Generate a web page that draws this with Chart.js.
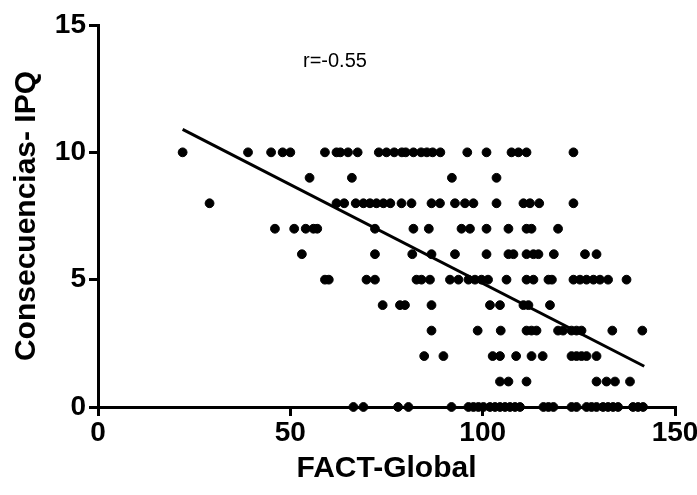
<!DOCTYPE html>
<html>
<head>
<meta charset="utf-8">
<script src="https://cdn.jsdelivr.net/npm/chart.js@4.4.0/dist/chart.umd.min.js"></script>
<style>
  html, body { margin: 0; padding: 0; background: #fff; }
</style>
</head>
<body>
<canvas id="chart" width="697" height="495"></canvas>
<script>
// FACT-Global scores for each Consecuencias-IPQ value
const factAt10 = [22, 39, 45, 48, 50, 59, 62, 63, 65, 67.5, 73, 75, 77, 79, 80, 82, 84, 85.5, 87, 89, 96, 101, 107.5, 109.3, 111.4, 123.6];
const factAt9 = [55, 66, 92, 103.6];
const factAt8 = [29, 62, 64, 67, 69, 70.7, 72.4, 74.2, 76, 78.9, 81.5, 86.7, 88.9, 92.8, 95.4, 97.6, 103.6, 110.6, 112.3, 114.7, 123.6];
const factAt7 = [46, 51, 54, 56, 57, 72, 82, 86, 94.5, 96.7, 101, 106.7, 111.4, 112.7, 119.6];
const factAt6 = [53, 72, 81.7, 86.7, 92.8, 101, 106.7, 108, 111.4, 113.2, 114.5, 118.5, 126.6, 129.6];
const factAt5 = [59, 60, 69.8, 72, 82.8, 84.1, 86.3, 91.5, 93.7, 96.3, 98, 99.7, 101.4, 106.2, 111.4, 113.2, 117.1, 118, 123.6, 125.3, 127, 128.8, 130.5, 132.6, 137.4];
const factAt4 = [74, 78.5, 79.8, 86.7, 101.9, 104.5, 110.6, 111.9, 117.5];
const factAt3 = [86.7, 98.7, 104.7, 111.4, 112.7, 114, 119.6, 120.9, 123.1, 124.4, 125.7, 133.7, 141.5];
const factAt2 = [84.8, 89.8, 102.6, 104.5, 108.7, 112.7, 115.6, 123.1, 124.4, 125.7, 127, 129.6];
const factAt1 = [104.5, 106.7, 111.4, 129.6, 132.2, 134.4, 138.3];
const factAt0 = [66.4, 69, 78, 80.7, 91.9, 96.3, 97.6, 98.9, 100.2, 101.9, 103.2, 104.5, 105.8, 107.1, 108.4, 109.7, 115.8, 117.1, 118.4, 123.1, 124.4, 127, 128.3, 129.6, 131.3, 132.6, 133.9, 135.2, 139.1, 140.4, 141.7];

const ipqLevels = [10, 9, 8, 7, 6, 5, 4, 3, 2, 1, 0];
const factByLevel = [factAt10, factAt9, factAt8, factAt7, factAt6, factAt5, factAt4, factAt3, factAt2, factAt1, factAt0];

// regression line end points
const fitX = [22, 142];
const fitY = [10.9, 1.6];

const xTicks = [0, 50, 100, 150];
const yTicks = [0, 5, 10, 15];
const corrLabel = 'r=-0.55';
const corrPos = { x: 61.6, y: 13.55 };

const FONT = '"Liberation Sans", Arial, sans-serif';

const scatterPoints = [];
ipqLevels.forEach((level, i) => {
    factByLevel[i].forEach(v => scatterPoints.push({ x: v, y: level }));
});

const corrText = {
    id: 'corrText',
    afterDatasetsDraw(chart) {
        const ctx = chart.ctx;
        const px = chart.scales.x.getPixelForValue(corrPos.x);
        const py = chart.scales.y.getPixelForValue(corrPos.y);
        ctx.save();
        ctx.font = '20px ' + FONT;
        ctx.fillStyle = '#000';
        ctx.textAlign = 'center';
        ctx.textBaseline = 'middle';
        ctx.fillText(corrLabel, px, py);
        ctx.restore();
    }
};

function axisOptions(min, max, ticksList, title, titlePadding) {
    return {
        type: 'linear',
        min: min,
        max: max,
        afterBuildTicks: s => { s.ticks = ticksList.map(v => ({ value: v })); },
        ticks: {
            color: '#000',
            font: { family: FONT, size: 28, weight: 'bold', lineHeight: 1 },
            padding: 3
        },
        grid: {
            drawOnChartArea: false,
            drawTicks: true,
            tickLength: 9,
            color: '#000',
            lineWidth: 3
        },
        border: { display: true, color: '#000', width: 3 },
        title: {
            display: true,
            text: title,
            color: '#000',
            font: { family: FONT, size: 30, weight: 'bold', lineHeight: 1.2 },
            padding: titlePadding
        }
    };
}

const xAxis = axisOptions(0, 150, xTicks, 'FACT-Global', { top: 0, bottom: 8 });
xAxis.afterFit = s => { s.height = 88; s.paddingLeft = 0; s.paddingRight = 0; };
const yAxis = axisOptions(0, 15, yTicks, 'Consecuencias- IPQ', { top: 9, bottom: 0 });
yAxis.afterFit = s => { s.width = 98; s.paddingTop = 0; s.paddingBottom = 0; };

new Chart(document.getElementById('chart'), {
    type: 'scatter',
    data: {
        datasets: [
            {
                data: scatterPoints,
                backgroundColor: '#000',
                borderColor: '#000',
                pointRadius: 4.4,
                pointHoverRadius: 4.4,
                clip: false
            },
            {
                type: 'line',
                data: fitX.map((x, i) => ({ x: x, y: fitY[i] })),
                borderColor: '#000',
                borderWidth: 3,
                pointRadius: 0,
                fill: false
            }
        ]
    },
    options: {
        responsive: false,
        animation: false,
        layout: { padding: { top: 25, right: 22, left: 0, bottom: 0 } },
        plugins: {
            legend: { display: false },
            tooltip: { enabled: false }
        },
        scales: { x: xAxis, y: yAxis }
    },
    plugins: [corrText]
});
</script>
</body>
</html>
